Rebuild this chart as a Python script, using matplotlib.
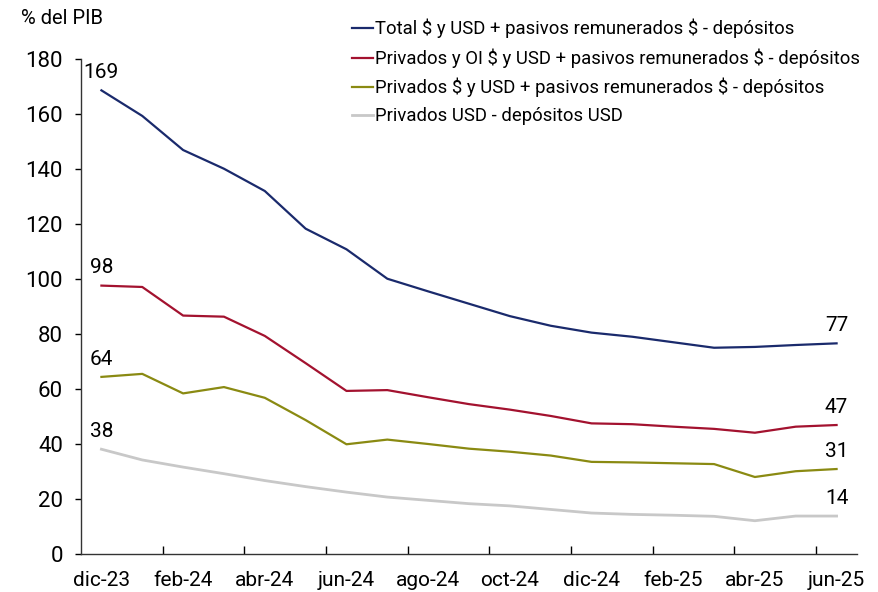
import numpy as np
import matplotlib
matplotlib.use('Agg')
import matplotlib.pyplot as plt

plt.rcParams['font.family'] = ['Roboto', 'DejaVu Sans']

# monthly data, dic-23 .. jun-25 (% del PIB)
months = ['dic-23', 'ene-24', 'feb-24', 'mar-24', 'abr-24', 'may-24', 'jun-24',
          'jul-24', 'ago-24', 'sep-24', 'oct-24', 'nov-24', 'dic-24', 'ene-25',
          'feb-25', 'mar-25', 'abr-25', 'may-25', 'jun-25']
total = [168.6, 159.3, 146.9, 140.1, 132.0, 118.3, 110.8, 100.1, 95.5, 91.0,
         86.5, 83.0, 80.5, 79.0, 77.0, 75.0, 75.3, 76.0, 76.6]
priv_oi = [97.6, 97.1, 86.7, 86.3, 79.3, 69.4, 59.3, 59.6, 57.0, 54.5,
           52.5, 50.2, 47.5, 47.2, 46.3, 45.5, 44.1, 46.3, 46.9]
priv = [64.4, 65.5, 58.4, 60.7, 56.8, 48.7, 39.9, 41.6, 40.0, 38.3,
        37.2, 35.8, 33.5, 33.3, 33.0, 32.7, 28.0, 30.1, 30.9]
priv_usd = [38.1, 34.2, 31.6, 29.2, 26.7, 24.5, 22.5, 20.7, 19.5, 18.3,
            17.5, 16.2, 14.9, 14.4, 14.1, 13.7, 12.1, 13.8, 13.8]

labels = [r'Total \$ y USD + pasivos remunerados \$ - depósitos',
          r'Privados y OI \$ y USD + pasivos remunerados \$ - depósitos',
          r'Privados \$ y USD + pasivos remunerados \$ - depósitos',
          'Privados USD - depósitos USD']
colors = ['#1a2a6c', '#a3122f', '#8a8a12', '#c8c8c8']
series = [total, priv_oi, priv, priv_usd]

fig = plt.figure(figsize=(8.79, 5.92), dpi=100)
ax = fig.add_axes([81/879, 1-554/592, (857-81)/879, (554-59)/592])

x = np.arange(len(months))
for s, lab, c in zip(series, labels, colors):
    lw = 2.0 if c == '#c8c8c8' else 1.6
    ax.plot(x, s, color=c, lw=lw, label=lab, solid_joinstyle='round')

# end-point value labels
for s in series:
    ax.text(x[0], s[0] + 3, f'{round(s[0])}', ha='center', va='bottom', fontsize=15)
    ax.text(x[-1], s[-1] + 3, f'{round(s[-1])}', ha='center', va='bottom', fontsize=15)

ax.set_xlim(-0.5, len(months) - 0.5)
ax.set_ylim(0, 180)
ax.set_yticks(np.arange(0, 181, 20))
ax.set_xticks(x[::2])
ax.set_xticklabels(months[::2])
ax.set_xticks(np.arange(1.5, len(months) - 1, 2), minor=True)
ax.tick_params(axis='x', which='major', length=0, labelsize=15, pad=12)
ax.tick_params(axis='x', which='minor', direction='in', length=6, width=1)
ax.tick_params(axis='y', direction='out', length=4, width=1, labelsize=16, pad=9)
for sp in ['top', 'right']:
    ax.spines[sp].set_visible(False)
for sp in ['left', 'bottom']:
    ax.spines[sp].set_linewidth(1)
    ax.spines[sp].set_color('#333333')

fig.text(21/879, 1-18/592, '% del PIB', fontsize=14.5, va='center', ha='left')

fig.legend(loc='upper left', bbox_to_anchor=(352/879, 1-19/592), frameon=False,
           fontsize=13.3, handlelength=1.15, handletextpad=0.1, labelspacing=0.54,
           borderpad=0, borderaxespad=0)

fig.savefig('out.png', dpi=100)
